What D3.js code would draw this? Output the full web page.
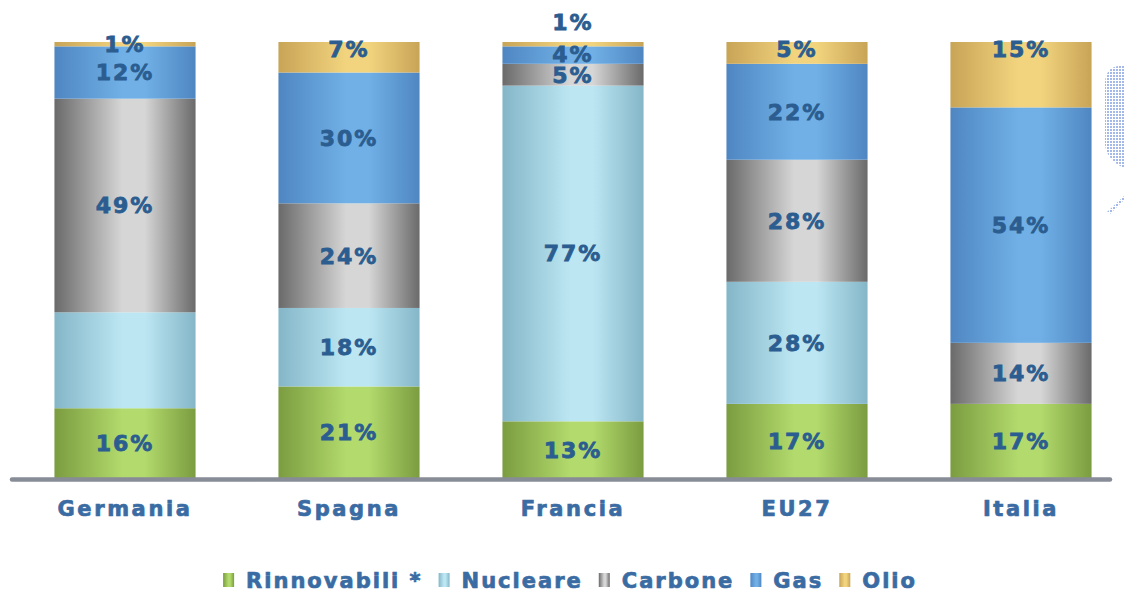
<!DOCTYPE html>
<html>
<head>
<meta charset="utf-8">
<script src="https://cdn.jsdelivr.net/npm/d3@7/dist/d3.min.js"></script>
<style>
  html, body { margin: 0; padding: 0; background: #fff; }
  svg { display: block; }
  text { font-family: "DejaVu Sans", Verdana, sans-serif; font-weight: bold; }
</style>
</head>
<body>
<div id="chart"></div>
<script>
// data (shares of electricity generation, %)
const countries = ["Germania", "Spagna", "Francia", "EU27", "Italia"];
const sources = ["Rinnovabili", "Nucleare", "Carbone", "Gas", "Olio"];
const legendLabels = ["Rinnovabili *", "Nucleare", "Carbone", "Gas", "Olio"];
const rinnovabili = [16, 21, 13, 17, 17];
const nucleare = [22, 18, 77, 28, 0];
const carbone = [49, 24, 5, 28, 14];
const gas = [12, 30, 4, 22, 54];
const olio = [1, 7, 1, 5, 15];
// the source picture prints no label on this segment
const hiddenLabels = [["Germania", "Nucleare"]];

const series = { Rinnovabili: rinnovabili, Nucleare: nucleare, Carbone: carbone, Gas: gas, Olio: olio };
const rows = countries.map((c, i) => {
  const r = { country: c };
  sources.forEach(s => r[s] = series[s][i]);
  return r;
});

const width = 1124, height = 594;
const margin = { top: 42, bottom: 116 };
const baseY = height - margin.bottom;

// cylinder look: dark edge -> light middle -> dark edge
const shades = {
  Rinnovabili: ["#7b9c40", "#b2da6c"],
  Nucleare: ["#84b6c8", "#bce6f2"],
  Carbone: ["#6a6a6a", "#d6d6d6"],
  Gas: ["#4f86c2", "#70b0e6"],
  Olio: ["#c8a457", "#f2d47e"]
};

const svg = d3.select("#chart").append("svg")
  .attr("width", width)
  .attr("height", height);

const defs = svg.append("defs");
sources.forEach(s => {
  const g = defs.append("linearGradient")
    .attr("id", "grad-" + s)
    .attr("x1", "0%").attr("x2", "100%").attr("y1", "0%").attr("y2", "0%");
  g.append("stop").attr("offset", "0%").attr("stop-color", shades[s][0]);
  g.append("stop").attr("offset", "48%").attr("stop-color", shades[s][1]);
  g.append("stop").attr("offset", "64%").attr("stop-color", shades[s][1]);
  g.append("stop").attr("offset", "100%").attr("stop-color", shades[s][0]);
});

const x = d3.scaleBand()
  .domain(countries)
  .range([13, 1133])
  .paddingInner(0.37)
  .paddingOuter(0.185);

const y = d3.scaleLinear()
  .domain([0, 100])
  .range([baseY, margin.top]);

const stacked = d3.stack().keys(sources)(rows);

const layer = svg.append("g").attr("class", "bars")
  .selectAll("g")
  .data(stacked)
  .enter().append("g")
  .attr("fill", d => "url(#grad-" + d.key + ")");

layer.selectAll("rect")
  .data(d => d)
  .enter().append("rect")
  .attr("x", d => x(d.data.country))
  .attr("width", x.bandwidth())
  .attr("y", d => y(d[1]))
  .attr("height", d => y(d[0]) - y(d[1]));

// value labels
const labels = [];
stacked.forEach(layerData => {
  layerData.forEach(d => {
    const v = d[1] - d[0];
    if (v <= 0) return;
    if (hiddenLabels.some(h => h[0] === d.data.country && h[1] === layerData.key)) return;
    let cy = (y(d[0]) + y(d[1])) / 2;
    if (layerData.key === "Olio") cy = Math.min(cy, y(d[1]) + 7);
    labels.push({ country: d.data.country, key: layerData.key, value: v, cy: cy, top: y(d[1]) });
  });
});
// push a top label above the bar when it would collide with the one beneath
labels.forEach(l => {
  if (l.key !== "Olio") return;
  const below = labels.find(o => o.country === l.country && o.key === "Gas");
  if (below && Math.abs(below.cy - l.cy) < 20) {
    l.cy = l.top - 20;
    below.cy -= 1;
  }
});

svg.append("g").attr("class", "values")
  .selectAll("text")
  .data(labels)
  .enter().append("text")
  .attr("x", d => x(d.country) + x.bandwidth() / 2)
  .attr("y", d => d.cy)
  .attr("dy", "0.36em")
  .attr("text-anchor", "middle")
  .attr("fill", "#2b5d90")
  .attr("stroke", "#2b5d90")
  .attr("stroke-width", 0.8)
  .attr("font-size", 22)
  .attr("letter-spacing", 2)
  .text(d => d.value + "%");

// baseline
svg.append("line")
  .attr("x1", 12).attr("x2", 1110)
  .attr("y1", baseY + 1.5).attr("y2", baseY + 1.5)
  .attr("stroke", "#878c96")
  .attr("stroke-width", 4.5)
  .attr("stroke-linecap", "round");

// category axis
const xAxis = svg.append("g")
  .attr("transform", `translate(0,${baseY + 23})`)
  .call(d3.axisBottom(x).tickSize(0).tickPadding(0));
xAxis.select(".domain").remove();
xAxis.selectAll("text")
  .attr("fill", "#3a6ca3")
  .attr("stroke", "#3a6ca3")
  .attr("stroke-width", 0.7)
  .attr("font-size", 21)
  .attr("letter-spacing", 2.6)
  .attr("font-family", "DejaVu Sans, Verdana, sans-serif")
  .attr("font-weight", "bold");

// legend
const legend = svg.append("g").attr("class", "legend");
const items = legend.selectAll("g")
  .data(sources)
  .enter().append("g");
items.append("rect")
  .attr("width", 11).attr("height", 14)
  .attr("y", -7)
  .attr("fill", d => "url(#grad-" + d + ")");
items.append("text")
  .attr("x", 23)
  .attr("dy", "0.36em")
  .attr("fill", "#3a6ca3")
  .attr("stroke", "#3a6ca3")
  .attr("stroke-width", 0.7)
  .attr("font-size", 21)
  .attr("letter-spacing", 2)
  .text((d, i) => legendLabels[i]);

let lx = 0;
items.each(function () {
  const g = d3.select(this);
  g.attr("transform", `translate(${lx},0)`);
  lx += 23 + g.select("text").node().getComputedTextLength() + 16;
});
const legendW = lx - 16;
legend.attr("transform", `translate(${(570 - legendW / 2).toFixed(1)},580)`);

// fragment of a logo cut off at the right edge
const pat = defs.append("pattern")
  .attr("id", "dots").attr("width", 3).attr("height", 3)
  .attr("patternUnits", "userSpaceOnUse");
pat.append("rect").attr("width", 2).attr("height", 2).attr("fill", "#7d9bdc");
svg.append("path")
  .attr("d", "M1124,66 L1118,66 Q1106,68 1105,82 L1105,145 Q1107,160 1124,168 Z")
  .attr("fill", "url(#dots)")
  .attr("opacity", 0.7);
svg.append("path")
  .attr("d", "M1107,212 L1124,196 L1124,200 L1110,214 Z")
  .attr("fill", "url(#dots)")
  .attr("opacity", 0.7);
</script>
</body>
</html>
